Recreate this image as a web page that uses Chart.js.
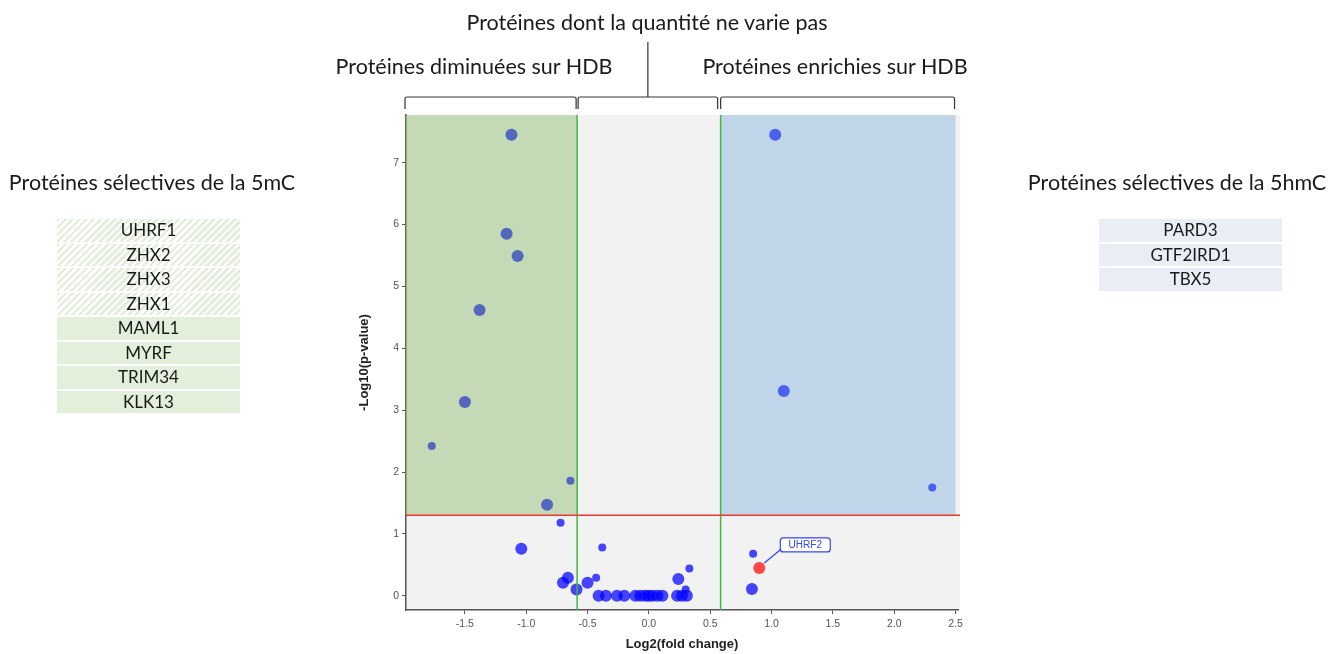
<!DOCTYPE html>
<html lang="fr">
<head>
<meta charset="utf-8">
<script src="https://cdn.jsdelivr.net/npm/chart.js@4.4.1/dist/chart.umd.min.js"></script>
<style>
  html, body { margin: 0; padding: 0; background: #fff; }
  body { width: 1343px; height: 654px; position: relative; overflow: hidden;
         font-family: Lato, "Open Sans", sans-serif; color: #1a1a1a; }
  #chartBox { position: absolute; left: 0; top: 0; width: 1343px; height: 654px; }
  .lbl { position: absolute; white-space: nowrap; font-size: 21.5px; line-height: 26px;
         transform: translateX(-50%); }
  .tbl { position: absolute; width: 183px; }
  .row { height: 22.5px; line-height: 22.5px; margin-bottom: 2px; text-align: center; font-size: 17px; }
  .hatch { background: repeating-linear-gradient(135deg, #e2efda 0 2.5px, #ffffff 2.5px 5px); }
  .green { background: #e2efda; }
  .blue { background: #e9edf6; }
</style>
</head>
<body>
<div id="chartBox"><canvas id="volcano" width="1343" height="654"></canvas></div>

<div class="lbl" style="left:647px; top:9px;">Protéines dont la quantité ne varie pas</div>
<div class="lbl" style="left:474px; top:53px;">Protéines diminuées sur HDB</div>
<div class="lbl" style="left:835px; top:53px;">Protéines enrichies sur HDB</div>
<div class="lbl" style="left:152px; top:169px;">Protéines sélectives de la 5mC</div>
<div class="lbl" style="left:1177px; top:169px;">Protéines sélectives de la 5hmC</div>
<div class="tbl" id="leftTable" style="left:57px; top:219px;"></div>
<div class="tbl" id="rightTable" style="left:1099px; top:219px;"></div>

<script>
// protéines (tableaux)
const hatchedProteins = ['UHRF1', 'ZHX2', 'ZHX3', 'ZHX1'];
const solidProteins = ['MAML1', 'MYRF', 'TRIM34', 'KLK13'];
const hmcProteins = ['PARD3', 'GTF2IRD1', 'TBX5'];

// points du volcano plot
const largeFoldChange = [-1.12, -1.16, -1.07, -1.38, -1.50, -0.83, 1.03, 1.10, -1.04, -0.70, -0.66, -0.59, -0.50, 0.24, 0.84,
    -0.41, -0.35, -0.26, -0.20, -0.11, -0.07, -0.03, 0.00, 0.03, 0.07, 0.11, 0.23, 0.27, 0.31];
const largeLogP = [7.45, 5.85, 5.49, 4.62, 3.13, 1.47, 7.45, 3.31, 0.76, 0.21, 0.29, 0.10, 0.21, 0.27, 0.11,
    0, 0, 0, 0, 0, 0, 0, 0, 0, 0, 0, 0, 0, 0];
const smallFoldChange = [-1.77, -0.64, 2.31, -0.72, -0.38, -0.43, 0.33, 0.30, 0.85];
const smallLogP = [2.42, 1.86, 1.75, 1.18, 0.78, 0.29, 0.44, 0.10, 0.68];
const uhrf2FoldChange = [0.90];
const uhrf2LogP = [0.45];

const xTicks = [-1.5, -1.0, -0.5, 0.0, 0.5, 1.0, 1.5, 2.0, 2.5];
const yTicks = [0, 1, 2, 3, 4, 5, 6, 7];
const foldThreshold = 0.585;
const pThreshold = 1.301;

function fillTable(id, names, cls) {
    const el = document.getElementById(id);
    names.forEach(n => {
        const d = document.createElement('div');
        d.className = 'row ' + cls;
        d.textContent = n;
        el.appendChild(d);
    });
}
fillTable('leftTable', hatchedProteins, 'hatch');
fillTable('leftTable', solidProteins, 'green');
fillTable('rightTable', hmcProteins, 'blue');

const toPoints = (xs, ys) => xs.map((x, i) => ({x: x, y: ys[i]}));

const zonesPlugin = {
    id: 'zones',
    beforeDraw(chart) {
        const a = chart.chartArea, ctx = chart.ctx;
        ctx.save();
        ctx.fillStyle = '#f2f2f2';
        ctx.fillRect(a.left, a.top, a.right - a.left + 2, a.bottom - a.top);
        ctx.restore();
    },
    afterDatasetsDraw(chart) {
        const a = chart.chartArea, ctx = chart.ctx;
        const xs = chart.scales.x, ys = chart.scales.y;
        const xl = xs.getPixelForValue(-foldThreshold);
        const xr = xs.getPixelForValue(foldThreshold);
        const xe = xs.getPixelForValue(2.5);
        const yp = ys.getPixelForValue(pThreshold);
        ctx.save();
        ctx.fillStyle = 'rgba(112,173,71,0.35)';
        ctx.fillRect(a.left - 1, a.top, xl - a.left + 1, yp - a.top);
        ctx.fillStyle = 'rgba(91,155,213,0.33)';
        ctx.fillRect(xr, a.top, xe - xr, yp - a.top);
        // seuils
        ctx.lineWidth = 1.5;
        ctx.strokeStyle = '#3dbb3d';
        [xl, xr].forEach(x => {
            ctx.beginPath(); ctx.moveTo(x, a.top); ctx.lineTo(x, a.bottom); ctx.stroke();
        });
        ctx.strokeStyle = '#ee3b30';
        ctx.beginPath(); ctx.moveTo(a.left, yp); ctx.lineTo(a.right + 2, yp); ctx.stroke();

        // étiquette UHRF2
        const pt = chart.getDatasetMeta(2).data[0];
        const px = pt.x, py = pt.y;
        ctx.strokeStyle = '#3344ff';
        ctx.lineWidth = 1.2;
        ctx.beginPath(); ctx.moveTo(px + 5, py - 5); ctx.lineTo(px + 22, py - 19); ctx.stroke();
        ctx.fillStyle = '#ffffff';
        ctx.beginPath();
        ctx.roundRect(px + 21, py - 30, 50, 14, 3);
        ctx.fill(); ctx.stroke();
        ctx.fillStyle = '#3344ff';
        ctx.font = '10px "Liberation Sans", Arial, sans-serif';
        ctx.textAlign = 'center';
        ctx.textBaseline = 'middle';
        ctx.fillText('UHRF2', px + 46, py - 22.5);
        ctx.restore();
    },
    afterDraw(chart) {
        const a = chart.chartArea, ctx = chart.ctx;
        const xs = chart.scales.x;
        const xl = xs.getPixelForValue(-foldThreshold);
        const xr = xs.getPixelForValue(foldThreshold);
        const xe = xs.getPixelForValue(2.5);
        const top = 97, foot = 109;
        const spans = [[a.left - 1, xl - 1], [xl + 1, xr - 3], [xr, xe - 1]];
        ctx.save();
        ctx.strokeStyle = '#333';
        ctx.lineWidth = 1.2;
        spans.forEach(s => {
            ctx.beginPath();
            ctx.moveTo(s[0], foot);
            ctx.lineTo(s[0], top + 2);
            ctx.quadraticCurveTo(s[0], top, s[0] + 2, top);
            ctx.lineTo(s[1] - 2, top);
            ctx.quadraticCurveTo(s[1], top, s[1], top + 2);
            ctx.lineTo(s[1], foot);
            ctx.stroke();
        });
        const mid = (spans[1][0] + spans[1][1]) / 2;
        ctx.beginPath(); ctx.moveTo(mid, top); ctx.lineTo(mid, 42); ctx.stroke();
        ctx.restore();
    }
};

const tickFont = {family: '"Liberation Sans", Arial, sans-serif', size: 10.5};
const titleFont = {family: '"Liberation Sans", Arial, sans-serif', size: 13, weight: 'bold'};

new Chart(document.getElementById('volcano'), {
    type: 'scatter',
    data: {
        datasets: [{
            data: toPoints(largeFoldChange, largeLogP),
            backgroundColor: 'rgba(0,0,255,0.72)',
            borderWidth: 0,
            pointRadius: 6
        }, {
            data: toPoints(smallFoldChange, smallLogP),
            backgroundColor: 'rgba(0,0,255,0.72)',
            borderWidth: 0,
            pointRadius: 4
        }, {
            data: toPoints(uhrf2FoldChange, uhrf2LogP),
            backgroundColor: 'rgba(255,40,40,0.85)',
            borderWidth: 0,
            pointRadius: 6
        }]
    },
    options: {
        responsive: false,
        animation: false,
        devicePixelRatio: 1,
        layout: {padding: {left: 357, right: 385, top: 115, bottom: 0}},
        plugins: {legend: {display: false}, tooltip: {enabled: false}},
        scales: {
            x: {
                type: 'linear',
                min: -1.98,
                max: 2.52,
                afterBuildTicks: s => { s.ticks = xTicks.map(v => ({value: v})); },
                afterFit: s => { s.height = 44; s.paddingLeft = 0; s.paddingRight = 0; },
                ticks: {font: tickFont, color: '#555', padding: 4, maxRotation: 0,
                        callback: v => Number(v).toFixed(1)},
                grid: {drawOnChartArea: false, drawTicks: true, tickLength: 4, tickColor: '#555'},
                border: {color: '#555', width: 1.5},
                title: {display: true, text: 'Log2(fold change)', font: titleFont, color: '#222',
                        padding: {top: 0, bottom: 2}}
            },
            y: {
                type: 'linear',
                min: -0.23,
                max: 7.77,
                afterBuildTicks: s => { s.ticks = yTicks.map(v => ({value: v})); },
                afterFit: s => { s.width = 49; s.paddingTop = 0; s.paddingBottom = 0; },
                ticks: {font: tickFont, color: '#555', padding: 3},
                grid: {drawOnChartArea: false, drawTicks: true, tickLength: 4, tickColor: '#555'},
                border: {color: '#555', width: 1.5},
                title: {display: true, text: '-Log10(p-value)', font: titleFont, color: '#222',
                        padding: {top: 0, bottom: 0}}
            }
        }
    },
    plugins: [zonesPlugin]
});
</script>
</body>
</html>
